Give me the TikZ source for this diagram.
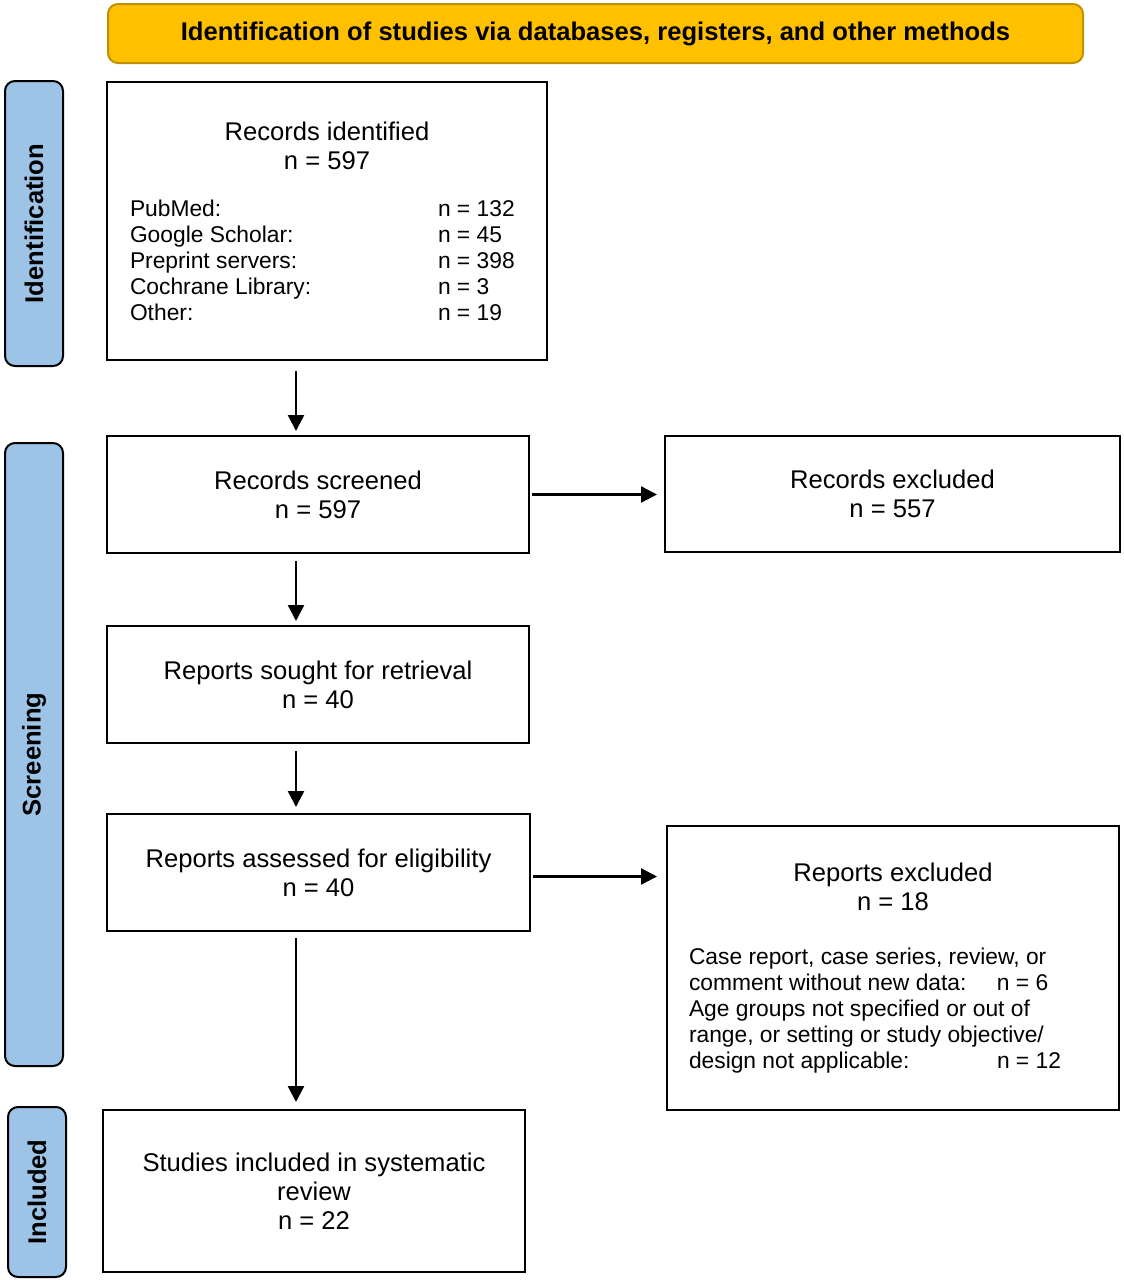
\documentclass[tikz,border=0pt]{standalone}
\usepackage{fontspec}
\setmainfont{Liberation Sans}
\usetikzlibrary{arrows.meta,positioning}
\definecolor{gold}{RGB}{255,192,0}
\definecolor{golddark}{RGB}{191,144,0}
\definecolor{paleblue}{RGB}{157,195,230}
\newcommand{\listfont}{\fontsize{11.4}{13}\selectfont}
\newcommand{\srcrow}[3]{\makebox[#1][l]{\listfont\makebox[154pt][l]{#2}#3}}
\newcommand{\plainrow}[2]{\makebox[#1][l]{\listfont #2}}

\begin{document}
\begin{tikzpicture}[x=0.5pt,y=-0.5pt,>={Triangle[length=8pt,width=8pt]},
  box/.style={draw,line width=1pt,align=center,font=\fontsize{12.8}{14.5}\selectfont},
  phase/.style={draw,line width=1pt,fill=paleblue,rounded corners=5pt,rotate=90,
    minimum height=29pt,font=\bfseries\fontsize{12.8}{14}\selectfont},
  flow/.style={->,line width=1.2pt}]
\useasboundingbox (0,0) rectangle (1124,1280);
\node[draw=golddark,line width=1pt,fill=gold,rounded corners=5pt,minimum width=487.5pt,
  minimum height=29.5pt,font=\bfseries\fontsize{12.8}{14}\selectfont] (title) at (595.5,33.5)
  {Identification of studies via databases, registers, and other methods};
\node[phase,minimum width=142.5pt] (pid) at (34,223.5) {Identification};
\node[phase,minimum width=311.5pt] (pscr) at (34,754.5) {Screening};
\node[phase,minimum width=85pt] (pinc) at (37,1192) {Included};
\node[box,minimum width=220pt,minimum height=139pt] (ident) at (327,221)
  {Records identified\\ n = 597\\[9pt]
   \srcrow{197pt}{PubMed:}{n = 132}\\[-1.5pt]
   \srcrow{197pt}{Google Scholar:}{n = 45}\\[-1.5pt]
   \srcrow{197pt}{Preprint servers:}{n = 398}\\[-1.5pt]
   \srcrow{197pt}{Cochrane Library:}{n = 3}\\[-1.5pt]
   \srcrow{197pt}{Other:}{n = 19}};
\node[box,minimum width=211pt,minimum height=58.5pt] (screen) at (318,494.5) {Records screened\\ n = 597};
\node[box,minimum width=227.5pt,minimum height=58pt] (rexcl) at (892.5,494) {Records excluded\\ n = 557};
\node[box,minimum width=211pt,minimum height=58.5pt] (sought) at (318,684.5) {Reports sought for retrieval\\ n = 40};
\node[box,minimum width=211.5pt,minimum height=58.5pt] (assess) at (318.5,872.5) {Reports assessed for eligibility\\ n = 40};
\node[box,minimum width=226pt,minimum height=142pt] (pexcl) at (893,968)
  {Reports excluded\\ n = 18\\[12.5pt]
   \plainrow{204pt}{Case report, case series, review, or}\\[-1.5pt]
   \srcrow{204pt}{comment without new data:}{n = 6}\\[-1.5pt]
   \plainrow{204pt}{Age groups not specified or out of}\\[-1.5pt]
   \plainrow{204pt}{range, or setting or study objective/}\\[-1.5pt]
   \srcrow{204pt}{design not applicable:}{n = 12}};
\node[box,minimum width=211pt,minimum height=81pt] (incl) at (314,1191)
  {Studies included in systematic\\ review\\ n = 22};
\coordinate (spine) at (296,0);
\draw[flow,shorten <=5pt,shorten >=2pt] (ident.south -| spine) -- (screen.north -| spine);
\draw[flow,shorten <=3.5pt,shorten >=2pt] (screen.south -| spine) -- (sought.north -| spine);
\draw[flow,shorten <=3.5pt,shorten >=3pt] (sought.south -| spine) -- (assess.north -| spine);
\draw[flow,shorten <=3pt,shorten >=3.5pt] (assess.south -| spine) -- (incl.north -| spine);
\draw[flow,shorten <=1pt,shorten >=3.5pt] (screen.east) -- (screen.east -| rexcl.west);
\draw[flow,shorten <=1pt,shorten >=4.5pt] ([yshift=-2pt]assess.east) -- ([yshift=-2pt]assess.east -| pexcl.west);
\end{tikzpicture}
\end{document}
